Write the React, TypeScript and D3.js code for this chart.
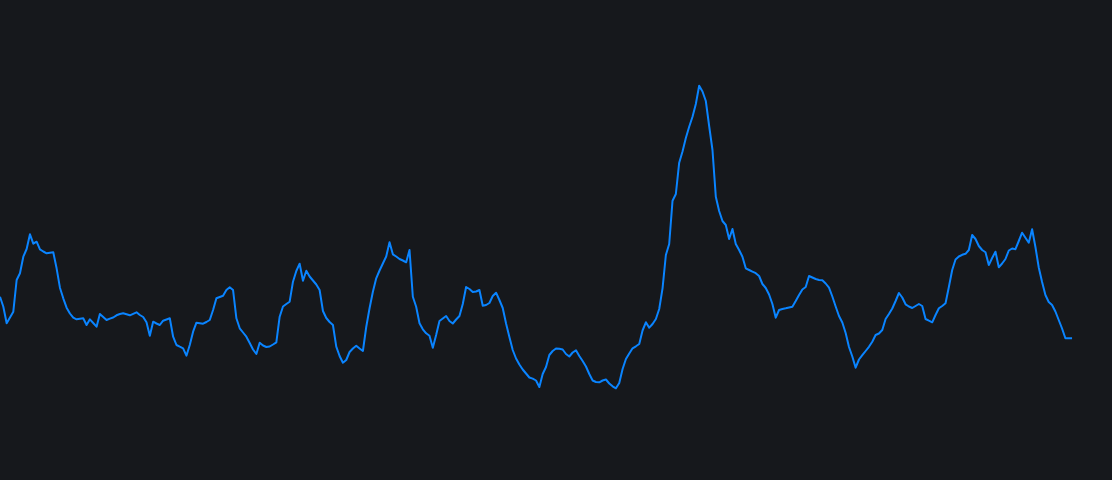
import React, { useEffect, useRef } from "react";
import * as d3 from "d3";

// Series values (one value per step, index 0..322)
const seriesValues: number[] = [
  103.3, 93.3, 76.7, 82.5, 88.3, 120, 126.7, 143.3, 151, 165.7,
  156.3, 158.3, 150.7, 148.5, 146.7, 147.2, 147.7, 131.7, 112.3, 101.7,
  92.3, 86.5, 82.3, 80.7, 81.2, 81.7, 75, 80.7, 77, 73.3,
  86, 83, 80, 81.4, 82.5, 84.7, 86, 86.7, 85.7, 84.7,
  86.2, 87.7, 85, 83, 77.7, 64.3, 78.3, 76.5, 75, 79.3,
  80.5, 81.7, 63.3, 55, 53.3, 51.7, 44.3, 55, 68.3, 77.3,
  76.8, 76.3, 78, 80, 90, 101.7, 103, 104.3, 110, 112.7,
  110, 81.7, 71.7, 67.5, 63.3, 57, 50.5, 46, 57.3, 54.5,
  53, 53.5, 55.5, 57.7, 83.3, 93.5, 96, 98.3, 118.3, 129,
  136.3, 119.3, 129.3, 123.5, 119.5, 115.5, 110, 89, 82, 78,
  75, 53.3, 44, 37.3, 40, 48, 51.5, 54.3, 51.5, 49,
  73, 91.7, 108.3, 121.7, 129.5, 136.5, 143.5, 157.7, 145.7, 143.5,
  141, 139.5, 137.7, 150, 103.3, 93.3, 76.7, 70.7, 66.7, 64.3,
  52.3, 65, 79, 81.5, 84, 79, 76.5, 80.5, 84, 96,
  113, 111, 108, 108.5, 110, 94.3, 95, 97, 104, 107.3,
  100, 92, 76.5, 63, 50, 41.5, 35.5, 30.5, 26.5, 22.5,
  21.4, 19.5, 13, 26, 33, 45, 49, 51.5, 51.3, 50.5,
  46, 43.5, 47.5, 49.7, 44, 39, 33.5, 26, 19.5, 18,
  17.7, 19.5, 20.5, 16.5, 13.7, 11.7, 17, 31, 41, 46.5,
  51.7, 53.7, 56, 69.5, 77.7, 72.3, 76, 81, 91, 111.7,
  145, 156, 199.3, 206, 237.3, 248.5, 262, 273.3, 283.3, 296,
  314.3, 308.5, 299, 274, 250, 203.3, 189, 179, 175, 161,
  171, 156, 150, 143.3, 131.7, 130, 128.3, 126.8, 124, 116,
  112, 105.5, 96, 82.3, 90, 91, 91.7, 92.5, 93.3, 99,
  105, 110.5, 113, 124, 122.5, 121, 120, 119.7, 116.5, 112.3,
  103.5, 93.5, 84, 77.5, 67, 53, 43.5, 32.3, 40.5, 44.8,
  49, 53.2, 58.3, 65, 66.5, 70, 81, 86, 91.5, 99,
  107, 102.5, 95.7, 93.5, 92, 94, 96, 94, 81, 79.3,
  77.7, 85, 91.7, 94, 96.7, 113, 130, 140.5, 143.5, 145.2,
  146.2, 150, 165, 161, 154, 150, 147.7, 135, 142, 148.3,
  132.7, 136.5, 141, 149.5, 151.5, 150.8, 159, 167.3, 162.3, 157.3,
  170.7, 153, 132.5, 118, 105, 98, 95, 88.5, 80, 71.5,
  61.7, 61.7, 61.7,
];

// Full step domain of the chart (the series stops before the right edge)
const stepDomain: [number, number] = [0, 334];
const valueDomain: [number, number] = [0, 320];

const WIDTH = 1112;
const HEIGHT = 480;

export default function App() {
  const ref = useRef<SVGSVGElement | null>(null);

  useEffect(() => {
    document.body.style.margin = "0";
    document.body.style.background = "#16181c";
    const svg = d3.select(ref.current);
    svg.selectAll("*").remove();

    const x = d3.scaleLinear().domain(stepDomain).range([0, WIDTH]);
    const y = d3.scaleLinear().domain(valueDomain).range([400, 80]);

    svg
      .append("rect")
      .attr("width", WIDTH)
      .attr("height", HEIGHT)
      .attr("fill", "#16181c");

    const line = d3
      .line<number>()
      .x((_, i) => x(i))
      .y((d) => y(d))
      .curve(d3.curveLinear);

    svg
      .append("path")
      .datum(seriesValues)
      .attr("d", line)
      .attr("fill", "none")
      .attr("stroke", "#0a84ff")
      .attr("stroke-width", 2)
      .attr("stroke-linejoin", "round")
      .attr("stroke-linecap", "butt");
  }, []);

  return (
    <div style={{ position: "absolute", left: 0, top: 0, width: WIDTH, height: HEIGHT }}>
      <svg ref={ref} width={WIDTH} height={HEIGHT} style={{ display: "block" }} />
    </div>
  );
}
